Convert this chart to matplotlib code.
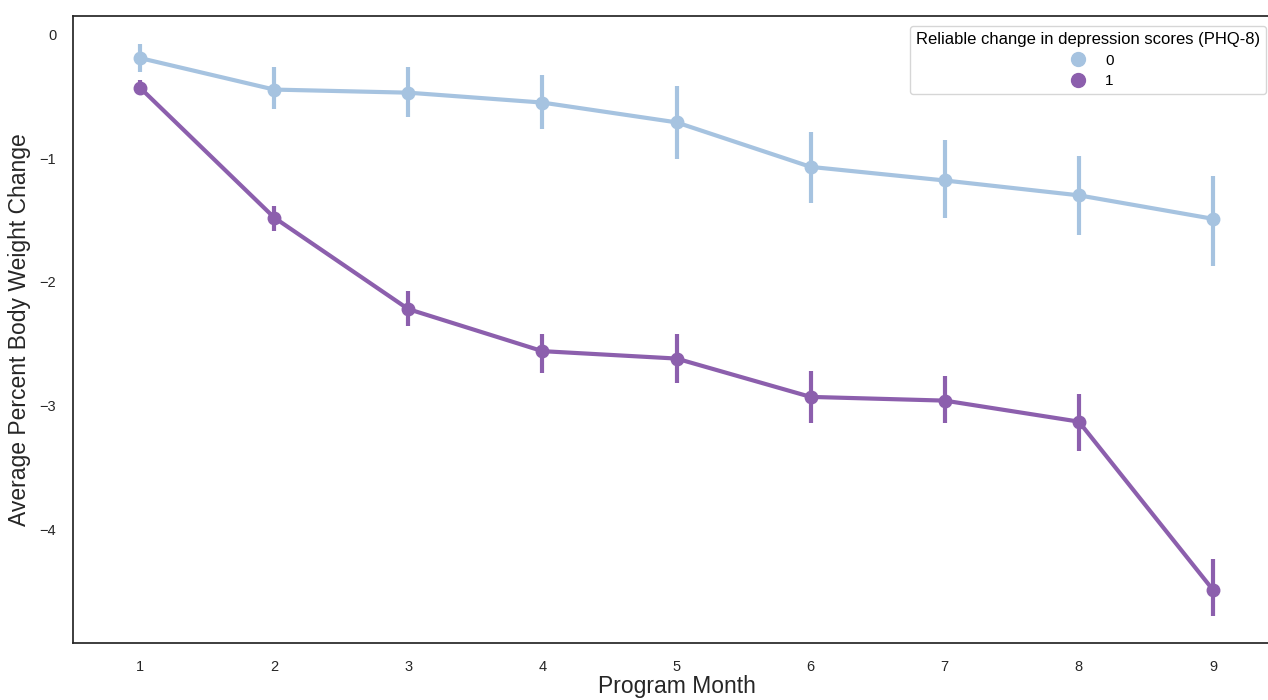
import numpy as np
import matplotlib
matplotlib.use("Agg")
import matplotlib.pyplot as plt
from matplotlib.lines import Line2D

plt.rcParams['font.family'] = ['Liberation Sans', 'DejaVu Sans']

months = ["1", "2", "3", "4", "5", "6", "7", "8", "9"]

# Group 0: no reliable change
mean0 = [-0.19, -0.445, -0.47, -0.55, -0.71, -1.07, -1.18, -1.30, -1.49]
lo0 = [-0.30, -0.60, -0.67, -0.76, -1.01, -1.36, -1.48, -1.62, -1.87]
hi0 = [-0.075, -0.26, -0.26, -0.33, -0.42, -0.79, -0.85, -0.98, -1.14]

# Group 1: reliable change
mean1 = [-0.43, -1.48, -2.22, -2.56, -2.62, -2.93, -2.96, -3.13, -4.49]
lo1 = [-0.49, -1.59, -2.36, -2.74, -2.82, -3.14, -3.14, -3.37, -4.70]
hi1 = [-0.37, -1.39, -2.07, -2.42, -2.42, -2.72, -2.76, -2.91, -4.24]

groups = ["0", "1"]
colors = ["#a6c3e0", "#8c5fad"]

W, H = 1268, 700
fig = plt.figure(figsize=(W / 100, H / 100), dpi=100)
ax = fig.add_axes([73 / W, 1 - 643 / H, (1280 - 73) / W, (643 - 16) / H])

x = np.arange(len(months))
for mean, lo, hi, col in [(mean0, lo0, hi0, colors[0]), (mean1, lo1, hi1, colors[1])]:
    m = np.array(mean)
    yerr = np.vstack([m - np.array(lo), np.array(hi) - m])
    ax.errorbar(x, m, yerr=yerr, color=col, lw=3, elinewidth=3, capsize=0,
                marker='o', markersize=9, zorder=3)

ax.set_xlim(-0.5, 8.5)
ax.set_ylim(-4.92, 0.15)
ax.set_xticks(x)
ax.set_xticklabels(months)
ax.set_yticks([0, -1, -2, -3, -4])
ax.set_yticklabels(["0", "\u22121", "\u22122", "\u22123", "\u22124"])
ax.tick_params(axis='both', length=0, labelsize=10.5, colors='#262626')
ax.tick_params(axis='x', pad=12)
ax.tick_params(axis='y', pad=12)

for s in ax.spines.values():
    s.set_color('#262626')
    s.set_linewidth(1.25)

ax.set_xlabel("Program Month", fontsize=16.5, color='#262626', labelpad=1)
ax.set_ylabel("Average Percent Body Weight Change", fontsize=16.5, color='#262626', labelpad=6)

handles = [Line2D([], [], marker='o', linestyle='none', color=c, markersize=10) for c in colors]
leg = ax.legend(handles, groups, title="Reliable change in depression scores (PHQ-8)",
                loc='upper right', fontsize=11, title_fontsize=12, frameon=True,
                handletextpad=0.8, labelspacing=0.45, borderpad=0.4,
                bbox_to_anchor=(0.995, 0.997))
leg.get_frame().set_edgecolor('#cccccc')

fig.savefig("out.png", dpi=100)
